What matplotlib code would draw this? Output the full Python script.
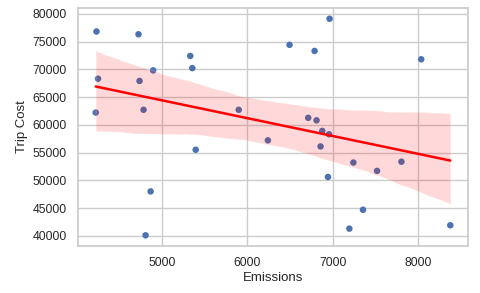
import numpy as np
import pandas as pd
import seaborn as sns
import matplotlib
matplotlib.use("Agg")
import matplotlib.pyplot as plt

# values
emissions = [4229, 4247, 4220, 4722, 4734, 4781, 4894, 5329, 5353, 5898,
             5393, 4864, 4805, 6964, 6494, 6788, 8039, 6713, 6811, 6878,
             6957, 6240, 6858, 7243, 7521, 7807, 6945, 7356, 7196, 8380]
trip_cost = [76800, 68300, 62200, 76300, 67900, 62700, 69800, 72400, 70200, 62700,
             55500, 48000, 40100, 79100, 74400, 73300, 71800, 61250, 60800, 58900,
             58300, 57200, 56100, 53200, 51700, 53350, 50600, 44700, 41300, 41900]

df = pd.DataFrame({"Emissions": emissions, "Trip Cost": trip_cost})

sns.set_theme(style="whitegrid")
plt.rcParams["font.family"] = ["Liberation Sans", "DejaVu Sans"]

fig = plt.figure(figsize=(4.8, 2.93), dpi=100)
ax = fig.add_axes([0.1625, 0.16, 0.8125, 0.813])

sns.scatterplot(data=df, x="Emissions", y="Trip Cost", ax=ax,
                color="#4c72b0", s=22, edgecolor="none")
sns.regplot(data=df, x="Emissions", y="Trip Cost", ax=ax, scatter=False,
            color="red", seed=0, line_kws={"lw": 1.8})

ax.set_xticks([5000, 6000, 7000, 8000])
ax.set_yticks(range(40000, 80001, 5000))
ax.tick_params(labelsize=8.7, pad=2)
ax.set_xlabel("Emissions", fontsize=9.5, labelpad=2)
ax.set_ylabel("Trip Cost", fontsize=9.5, labelpad=3)
for s in ax.spines.values():
    s.set_color("#cccccc")

fig.savefig("out.png", dpi=100)
